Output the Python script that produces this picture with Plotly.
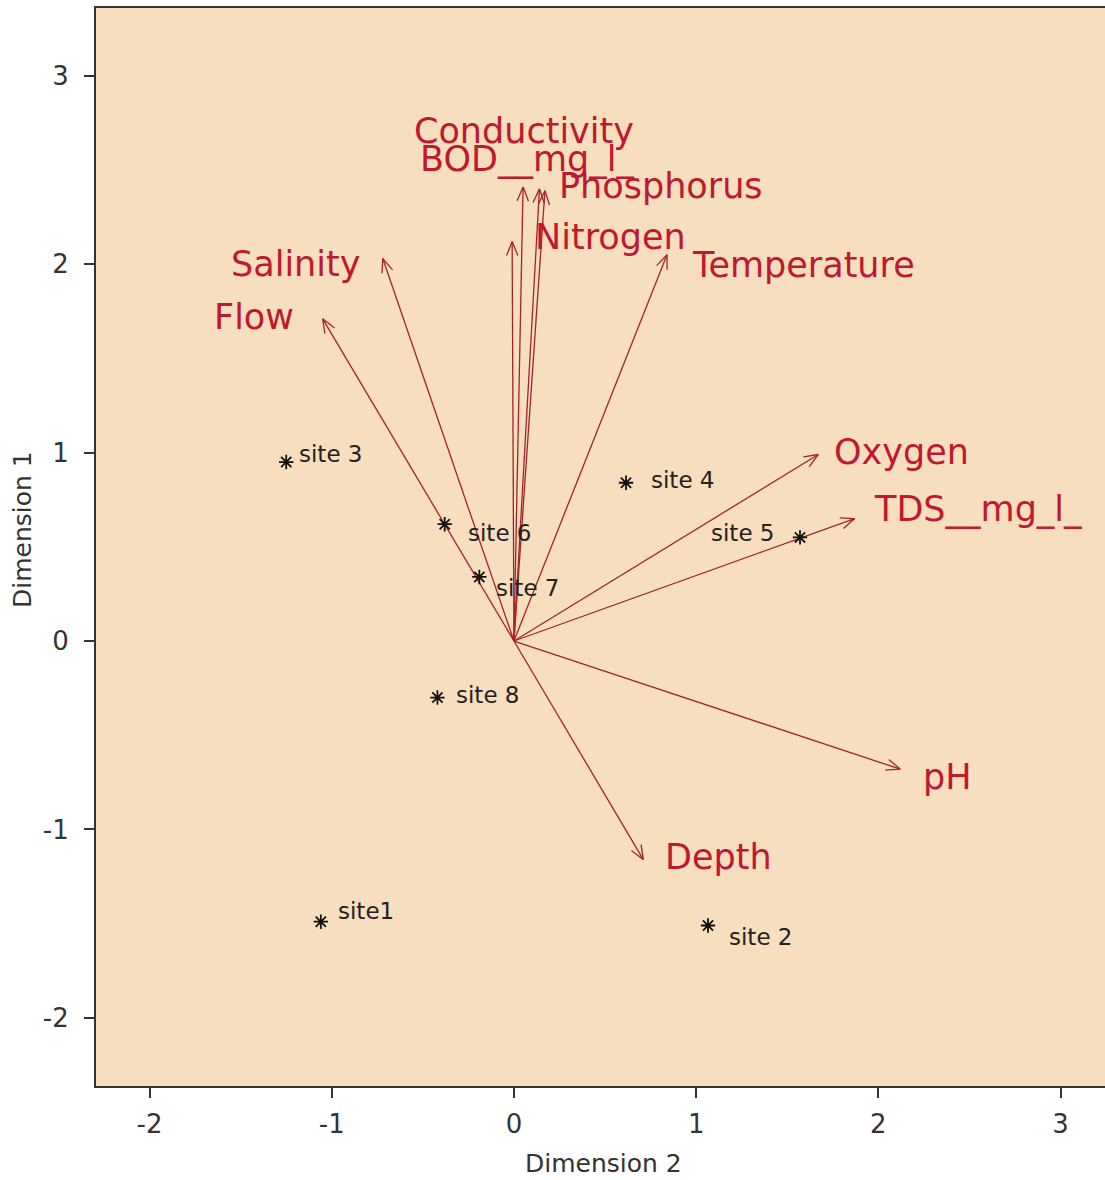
import math
import plotly.graph_objects as go

# ---------------- data ----------------
variables = ["Conductivity", "BOD__mg_l_", "Phosphorus", "Nitrogen", "Temperature",
             "Salinity", "Flow", "Oxygen", "TDS__mg_l_", "pH", "Depth"]
load_dim2 = [0.05, 0.14, 0.17, -0.01, 0.84, -0.72, -1.05, 1.67, 1.87, 2.12, 0.71]
load_dim1 = [2.41, 2.40, 2.39, 2.12, 2.05, 2.03, 1.71, 0.99, 0.65, -0.68, -1.16]

sites = ["site1", "site 2", "site 3", "site 4", "site 5", "site 6", "site 7", "site 8"]
site_dim2 = [-1.06, 1.065, -1.25, 0.615, 1.57, -0.38, -0.19, -0.42]
site_dim1 = [-1.49, -1.51, 0.95, 0.84, 0.55, 0.62, 0.34, -0.30]

x_ticks = [-2, -1, 0, 1, 2, 3]
y_ticks = [-2, -1, 0, 1, 2, 3]

# ---------------- styling ----------------
W, H = 1105, 1180
M_L, M_R, M_T, M_B = 96, 0, 8, 94
X_RANGE = [-2.294, 3.244]
Y_RANGE = [-2.362, 3.36]
BG = "#F6DEBF"
ARROW_COL = "#a3232c"
LABEL_COL = "#c0182f"
FONT = "DejaVu Sans"

# label placement (pixel offsets from arrow tip: dx right, dy down) and anchor
var_label_style = {
    "Conductivity": ("center", 1, -56),
    "BOD__mg_l_": ("left", -121, -30),
    "Phosphorus": ("left", 12, -5),
    "Nitrogen": ("left", 21, -5),
    "Temperature": ("left", 23, 10),
    "Salinity": ("right", -21, 5),
    "Flow": ("right", -27, -2),
    "Oxygen": ("left", 14, -3),
    "TDS__mg_l_": ("left", 17, -10),
    "pH": ("left", 21, 8),
    "Depth": ("left", 20, -3),
}
site_label_style = {
    "site1": ("left", 15, -11),
    "site 2": ("left", 19, 12),
    "site 3": ("left", 11, -8),
    "site 4": ("left", 23, -3),
    "site 5": ("right", -23, -4),
    "site 6": ("left", 21, 9),
    "site 7": ("left", 15, 11),
    "site 8": ("left", 17, -3),
}

# pixel scale of the axes (for arrow heads)
plot_w = W - M_L - M_R
plot_h = H - M_T - M_B
sx = plot_w / (X_RANGE[1] - X_RANGE[0])
sy = plot_h / (Y_RANGE[1] - Y_RANGE[0])
HEAD_LEN = 15.0
HEAD_ANG = math.radians(22)

ax_x, ax_y = [], []
for x, y in zip(load_dim2, load_dim1):
    ax_x += [0, x, None]
    ax_y += [0, y, None]
    px, py = x * sx, y * sy
    n = math.hypot(px, py)
    ux, uy = px / n, py / n
    for s in (1, -1):
        ca, sa = math.cos(s * HEAD_ANG), math.sin(s * HEAD_ANG)
        rx = ux * ca - uy * sa
        ry = ux * sa + uy * ca
        hx = x - HEAD_LEN * rx / sx
        hy = y - HEAD_LEN * ry / sy
        ax_x += [hx, x, None]
        ax_y += [hy, y, None]

fig = go.Figure()
fig.add_trace(go.Scatter(x=ax_x, y=ax_y, mode="lines",
                         line=dict(color=ARROW_COL, width=1.3),
                         hoverinfo="skip", showlegend=False))
fig.add_trace(go.Scatter(x=site_dim2, y=site_dim1, mode="markers",
                         marker=dict(symbol="asterisk-open", size=12, color="#111111",
                                     line=dict(color="#111111", width=1.8)),
                         text=sites, showlegend=False))

annotations = []
for name, x, y in zip(variables, load_dim2, load_dim1):
    anc, dx, dy = var_label_style[name]
    annotations.append(dict(x=x, y=y, xref="x", yref="y", text=name, showarrow=False,
                            xanchor=anc, yanchor="middle", xshift=dx, yshift=-dy,
                            font=dict(family=FONT, size=35, color=LABEL_COL)))
for name, x, y in zip(sites, site_dim2, site_dim1):
    anc, dx, dy = site_label_style[name]
    annotations.append(dict(x=x, y=y, xref="x", yref="y", text=name, showarrow=False,
                            xanchor=anc, yanchor="middle", xshift=dx, yshift=-dy,
                            font=dict(family=FONT, size=23, color="#222222")))
# axis titles
annotations.append(dict(x=0.5, y=0, xref="paper", yref="paper", text="Dimension 2",
                        showarrow=False, xanchor="center", yanchor="middle",
                        yshift=-77, xshift=3,
                        font=dict(family=FONT, size=25, color="#333333")))
annotations.append(dict(x=0, y=0.5, xref="paper", yref="paper", text="Dimension 1",
                        showarrow=False, xanchor="center", yanchor="middle",
                        xshift=-74, yshift=17, textangle=-90,
                        font=dict(family=FONT, size=25, color="#333333")))

fig.update_layout(
    width=W, height=H,
    margin=dict(l=M_L, r=M_R, t=M_T, b=M_B),
    paper_bgcolor="white", plot_bgcolor=BG,
    annotations=annotations,
    showlegend=False,
)
fig.update_xaxes(range=X_RANGE, tickvals=x_ticks, ticktext=[str(v) for v in x_ticks],
                 showgrid=False, zeroline=False, showline=True, linecolor="#333333",
                 linewidth=2, mirror=True, ticks="outside", ticklen=10, tickwidth=1.5,
                 tickcolor="#333333", ticklabelstandoff=4,
                 tickfont=dict(family=FONT, size=26, color="#333333"))
fig.update_yaxes(range=Y_RANGE, tickvals=y_ticks, ticktext=[str(v) for v in y_ticks],
                 showgrid=False, zeroline=False, showline=True, linecolor="#333333",
                 linewidth=2, mirror=False, ticks="outside", ticklen=10, tickwidth=1.5,
                 tickcolor="#333333", ticklabelstandoff=10,
                 tickfont=dict(family=FONT, size=26, color="#333333"))

fig.write_html("out.html")
